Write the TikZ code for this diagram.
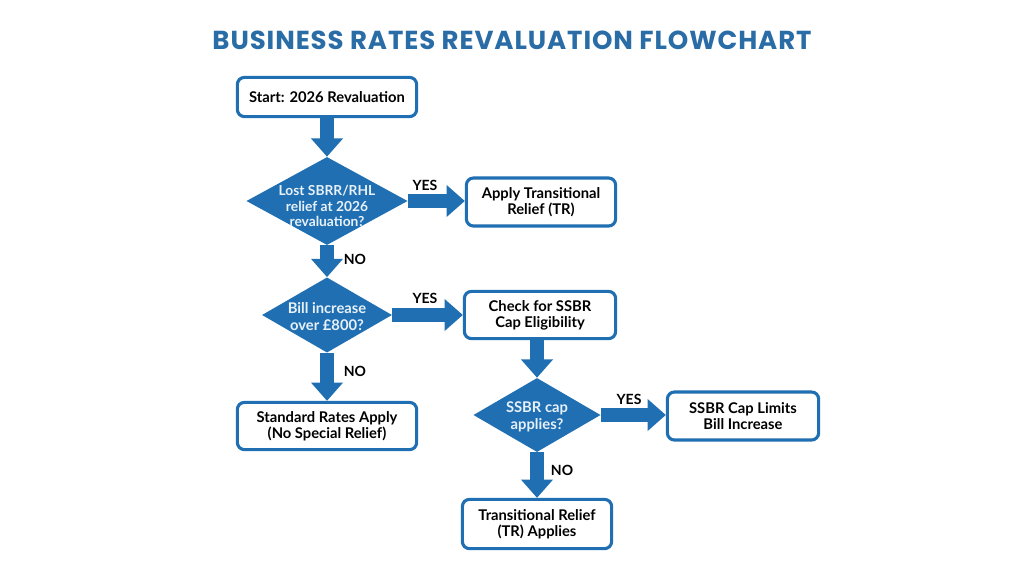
\documentclass[tikz,border=0pt]{standalone}
\usepackage{fontspec}
\setmainfont{Lato}
\newfontfamily\headfont{Poppins}[LetterSpace=3.5]
\usetikzlibrary{shapes.geometric,arrows.meta}
\definecolor{flowblue}{HTML}{1F6FB2}
\definecolor{headblue}{HTML}{2A6CA6}
\definecolor{paleblue}{HTML}{E8F1FA}

\begin{document}
\begin{tikzpicture}[x=0.025cm,y=-0.025cm,
  box/.style={draw=flowblue,line width=2.2pt,rounded corners=5pt,fill=white,align=center,
    font=\bfseries\fontsize{10.5}{11.6}\selectfont,inner sep=2pt},
  decision/.style={diamond,fill=flowblue,inner sep=0pt},
  dtext/.style={text=paleblue,align=center,font=\bfseries\fontsize{9.8}{10.8}\selectfont},
  flow/.style={draw=flowblue,line width=10pt,-{Triangle[width=22pt,length=13pt]}},
  answer/.style={font=\bfseries\fontsize{10}{12}\selectfont}]

\useasboundingbox (0,0) rectangle (1024,572);
\node[text=headblue,font=\headfont\bfseries\fontsize{18.5}{21}\selectfont] (title) at (512,40)
  {BUSINESS RATES REVALUATION FLOWCHART};

% left column
\node[box,minimum width=4.48cm,minimum height=0.98cm] (start) at (327,97) {Start: 2026 Revaluation};
\node[decision,minimum width=4.03cm,minimum height=2.2cm] (lost) at (327,201) {};
\node[dtext] (losttext) at (327,206) {Lost SBRR/RHL\\relief at 2026\\revaluation?};
\node[decision,minimum width=3.25cm,minimum height=1.88cm] (bill) at (327,315) {};
\node[dtext,font=\bfseries\fontsize{10.5}{12}\selectfont] (billtext) at (327,317) {Bill increase\\over £800?};
\node[box,minimum width=4.48cm,minimum height=1.18cm] (standard) at (327,426) {Standard Rates Apply\\(No Special Relief)};

% right column
\node[box,minimum width=3.73cm,minimum height=1.2cm] (apply) at (541,202) {Apply Transitional\\Relief (TR)};
\node[box,minimum width=3.78cm,minimum height=1.18cm] (check) at (540,315) {Check for SSBR\\Cap Eligibility};
\node[decision,minimum width=3.18cm,minimum height=1.85cm] (cap) at (537,415) {};
\node[dtext,font=\bfseries\fontsize{10.5}{12}\selectfont] (captext) at (537,417) {SSBR cap\\applies?};
\node[box,minimum width=3.78cm,minimum height=1.2cm] (limits) at (743,416) {SSBR Cap Limits\\Bill Increase};
\node[box,minimum width=3.73cm,minimum height=1.23cm] (trapplies) at (537,524) {Transitional Relief\\(TR) Applies};

% arrows
\draw[flow] (start) -- (lost);
\draw[flow] (lost.east) -- (lost.east -| apply.west);
\draw[flow] (lost) -- (bill);
\draw[flow] (bill.east) -- (bill.east -| check.west);
\draw[flow] (bill) -- (standard);
\draw[flow] (check.south -| cap.north) -- (cap.north);
\draw[flow] (cap.east) -- (cap.east -| limits.west);
\draw[flow] (cap) -- (trapplies);

\node[answer] (yes1) at (425,185) {YES};
\node[answer] (no1) at (355,259) {NO};
\node[answer] (yes2) at (425,298) {YES};
\node[answer] (no2) at (355,371) {NO};
\node[answer] (yes3) at (629,399) {YES};
\node[answer] (no3) at (562,470) {NO};
\end{tikzpicture}
\end{document}
